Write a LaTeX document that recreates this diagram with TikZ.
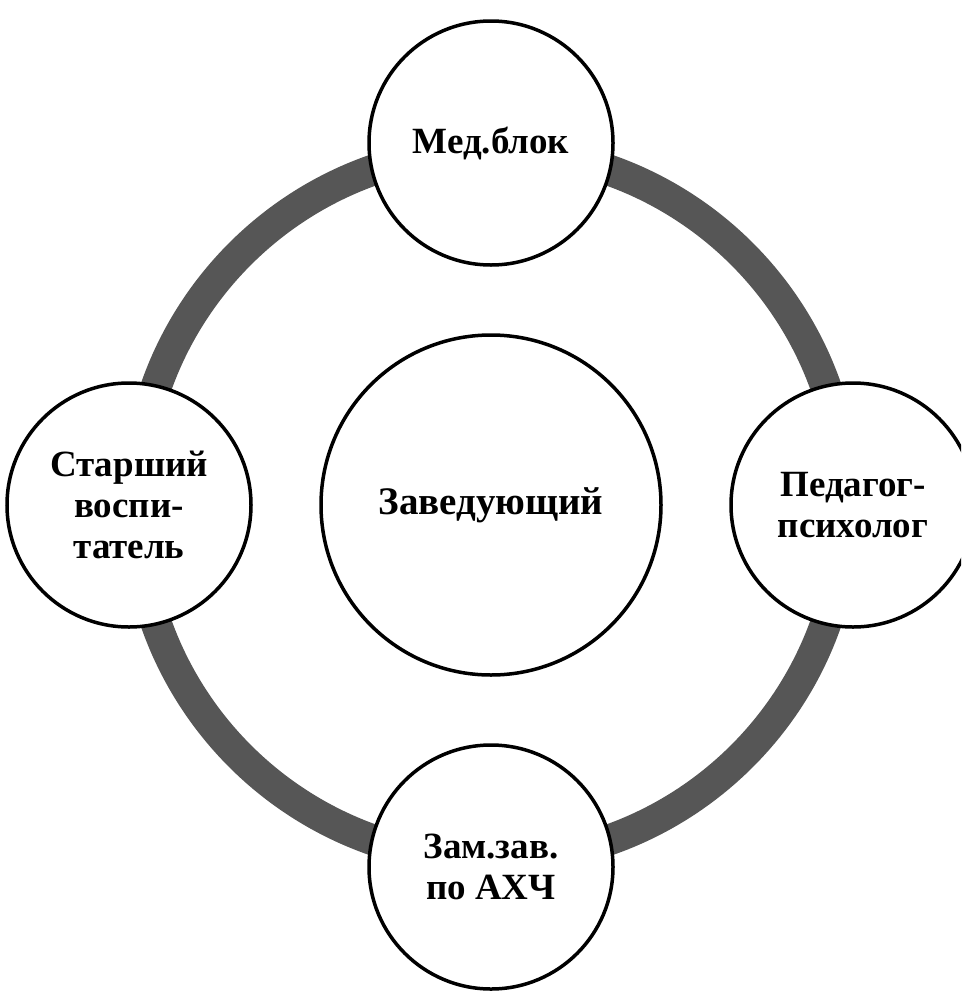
\documentclass[tikz,border=0pt]{standalone}
\usepackage{fontspec}
\setmainfont{Liberation Serif}
\usepackage{tikz}
\tikzset{auto}
\definecolor{ringgray}{HTML}{565656}

\begin{document}
\begin{tikzpicture}[x=1pt,y=1pt,node distance=362pt,
    unit/.style={circle,draw,line width=3.5pt,fill=white,minimum size=244pt,
      inner sep=0pt,align=center,font=\fontsize{37}{41}\selectfont\bfseries},
    ring/.style={draw=ringgray,line width=31pt}]
        \useasboundingbox (0,0) rectangle (961,-1001);
        \clip (0,0) rectangle (961,-1001);
        \node (boss) [unit,minimum size=340pt,font=\fontsize{39}{44}\selectfont\bfseries] at (491,-505) {Заведующий};
        \draw[ring] (boss.center) circle (355pt);
        \node (med) [unit,above of=boss] {Мед.блок};
        \node (senior) [unit,left of=boss] {Старший\\воспи-\\татель};
        \node (psych) [unit,right of=boss] {Педагог-\\психолог};
        \node (deputy) [unit,below of=boss] {Зам.зав.\\по АХЧ};
      \end{tikzpicture}
\end{document}
